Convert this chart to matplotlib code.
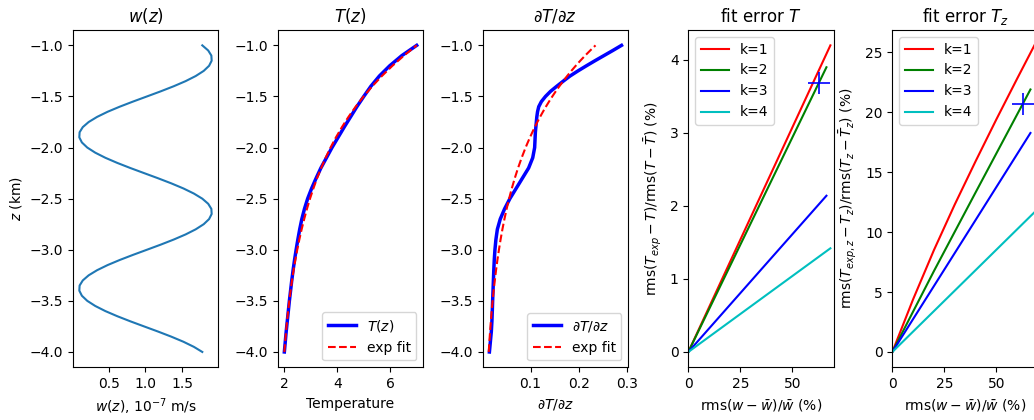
import matplotlib
matplotlib.use("Agg")
import matplotlib.pyplot as plt

# ---- data ----
# vertical velocity profile, z step 0.05 km
z_w = [-4.00, -3.95, -3.90, -3.85, -3.80, -3.75, -3.70, -3.65, -3.60, -3.55,
       -3.50, -3.45, -3.40, -3.35, -3.30, -3.25, -3.20, -3.15, -3.10, -3.05,
       -3.00, -2.95, -2.90, -2.85, -2.80, -2.75, -2.70, -2.65, -2.60, -2.55,
       -2.50, -2.45, -2.40, -2.35, -2.30, -2.25, -2.20, -2.15, -2.10, -2.05,
       -2.00, -1.95, -1.90, -1.85, -1.80, -1.75, -1.70, -1.65, -1.60, -1.55,
       -1.50, -1.45, -1.40, -1.35, -1.30, -1.25, -1.20, -1.15, -1.10, -1.05,
       -1.00]
w = [1.770, 1.656, 1.514, 1.349, 1.169, 0.981, 0.794, 0.617, 0.456, 0.319,
     0.211, 0.138, 0.103, 0.107, 0.150, 0.230, 0.344, 0.486, 0.651, 0.831,
     1.019, 1.206, 1.383, 1.544, 1.681, 1.789, 1.862, 1.897, 1.893, 1.850,
     1.770, 1.656, 1.514, 1.349, 1.169, 0.981, 0.794, 0.617, 0.456, 0.319,
     0.211, 0.138, 0.103, 0.107, 0.150, 0.230, 0.344, 0.486, 0.651, 0.831,
     1.019, 1.206, 1.383, 1.544, 1.681, 1.789, 1.862, 1.897, 1.893, 1.850,
     1.770]

# temperature, z step 0.1 km
z = [-4.0, -3.9, -3.8, -3.7, -3.6, -3.5, -3.4, -3.3, -3.2, -3.1,
     -3.0, -2.9, -2.8, -2.7, -2.6, -2.5, -2.4, -2.3, -2.2, -2.1,
     -2.0, -1.9, -1.8, -1.7, -1.6, -1.5, -1.4, -1.3, -1.2, -1.1, -1.0]
T = [2.00, 2.035, 2.07, 2.11, 2.15, 2.19, 2.235, 2.28, 2.33, 2.385,
     2.445, 2.51, 2.58, 2.66, 2.76, 2.88, 3.03, 3.20, 3.38, 3.59,
     3.80, 4.03, 4.26, 4.50, 4.74, 5.00, 5.27, 5.59, 5.98, 6.44, 7.00]
T_fit = [2.000, 2.031, 2.064, 2.101, 2.142, 2.187, 2.236, 2.290, 2.349, 2.415,
         2.487, 2.566, 2.653, 2.749, 2.854, 2.969, 3.097, 3.236, 3.390, 3.559,
         3.745, 3.950, 4.175, 4.422, 4.694, 4.993, 5.322, 5.684, 6.082, 6.519, 7.000]

# temperature gradient, finer steps in the upper km
z_d = [-4.0, -3.9, -3.8, -3.7, -3.6, -3.5, -3.4, -3.3, -3.2, -3.1,
       -3.0, -2.9, -2.8, -2.7, -2.6, -2.5, -2.4, -2.3, -2.2, -2.1,
       -2.00, -1.95, -1.90, -1.85, -1.80, -1.75, -1.70, -1.65, -1.60, -1.55,
       -1.50, -1.45, -1.40, -1.35, -1.30, -1.25, -1.20, -1.15, -1.10, -1.05,
       -1.00]
dTdz = [0.0145, 0.0165, 0.0185, 0.0197, 0.0205, 0.0212, 0.022, 0.0228, 0.0236, 0.0246,
        0.026, 0.028, 0.031, 0.037, 0.046, 0.057, 0.070, 0.083, 0.096, 0.1045,
        0.1085, 0.109, 0.1095, 0.110, 0.111, 0.112, 0.113, 0.1145, 0.117, 0.1225,
        0.131, 0.1415, 0.1545, 0.168, 0.182, 0.1985, 0.216, 0.234, 0.2525, 0.271,
        0.289]
dTdz_fit = [0.0131, 0.0144, 0.0159, 0.0175, 0.0192, 0.0212, 0.0233, 0.0257, 0.0283, 0.0311,
            0.0343, 0.0377, 0.0415, 0.0457, 0.0503, 0.0554, 0.0610, 0.0672, 0.0740, 0.0815,
            0.0897, 0.0942, 0.0988, 0.1037, 0.1088, 0.1141, 0.1198, 0.1257, 0.1319, 0.1384,
            0.1452, 0.1523, 0.1599, 0.1677, 0.1760, 0.1847, 0.1938, 0.2034, 0.2134, 0.2240,
            0.2350]

# fit errors vs rms(w - wbar)/wbar, one line per k
k_labels = ["k=1", "k=2", "k=3", "k=4"]
k_colors = ["r", "g", "b", "c"]
err_x = [[0, 10, 20, 30, 40, 50, 60, 68.3],
         [0, 20, 40, 66.4],
         [0, 20, 40, 66.4],
         [0, 20, 40, 68.3]]
errT = [[0, 0.615, 1.23, 1.845, 2.46, 3.075, 3.69, 4.20],
        [0, 1.175, 2.35, 3.90],
        [0, 0.645, 1.29, 2.14],
        [0, 0.416, 0.832, 1.42]]
errTz = [[0, 4.4, 8.5, 12.3, 15.9, 19.4, 22.8, 25.58],
         [0, 6.75, 13.3, 21.9],
         [0, 5.50, 11.0, 18.27],
         [0, 3.41, 6.82, 11.65]]
mark_x = 62.8
mark_T = 3.69
mark_Tz = 20.72

# ---- figure ----
fig = plt.figure(figsize=(10.34, 4.2), dpi=100)
bottom, height, width = 0.1255, 0.803, 0.1408
lefts = [0.0703, 0.2686, 0.4668, 0.6657, 0.8630]
axs = [fig.add_axes([l, bottom, width, height]) for l in lefts]

# w(z)
ax = axs[0]
ax.plot(w, z_w, color="C0", lw=1.5)
ax.set_title("$w(z)$")
ax.set_ylabel("$z$ (km)")
ax.set_xlabel("$w(z)$, $10^{-7}$ m/s")
ax.set_xticks([0.5, 1.0, 1.5])

# T(z)
ax = axs[1]
ax.plot(T, z, "b-", lw=2.5, label="$T(z)$")
ax.plot(T_fit, z, "r--", lw=1.5, label="exp fit")
ax.set_title("$T(z)$")
ax.set_xlabel("Temperature")
ax.set_xticks([2, 4, 6])
ax.legend(loc="lower right")

# dT/dz
ax = axs[2]
ax.plot(dTdz, z_d, "b-", lw=2.5, label=r"$\partial T/\partial z$")
ax.plot(dTdz_fit, z_d, "r--", lw=1.5, label="exp fit")
ax.set_title(r"$\partial T/\partial z$")
ax.set_xlabel(r"$\partial T/\partial z$")
ax.set_xlim(0.0005, 0.303)
ax.set_xticks([0.1, 0.2, 0.3])
ax.legend(loc="lower right")

for ax in axs[:3]:
    ax.set_ylim(-4.15, -0.85)
    ax.set_yticks([-4.0, -3.5, -3.0, -2.5, -2.0, -1.5, -1.0])

# fit error T
ax = axs[3]
for i in range(4):
    ax.plot(err_x[i], errT[i], color=k_colors[i], lw=1.5, label=k_labels[i])
ax.plot(mark_x, mark_T, "b+", ms=16, mew=1.2)
ax.set_title("fit error $T$")
ax.set_ylabel(r"rms$(T_{exp}-T)$/rms$(T-\bar{T})$ (%)")
ax.legend(loc="upper left")

# fit error Tz
ax = axs[4]
for i in range(4):
    ax.plot(err_x[i], errTz[i], color=k_colors[i], lw=1.5, label=k_labels[i])
ax.plot(mark_x, mark_Tz, "b+", ms=16, mew=1.2)
ax.set_title("fit error $T_z$")
ax.set_ylabel(r"rms$(T_{exp,z}-T_z)$/rms$(T_z-\bar{T}_z)$ (%)")
ax.legend(loc="upper left")

for ax in axs[3:]:
    ax.set_xlim(0, 70)
    ax.set_xticks([0, 25, 50])
    ax.set_xlabel(r"rms$(w-\bar{w})/\bar{w}$ (%)")

fig.savefig("out.png", dpi=100)
